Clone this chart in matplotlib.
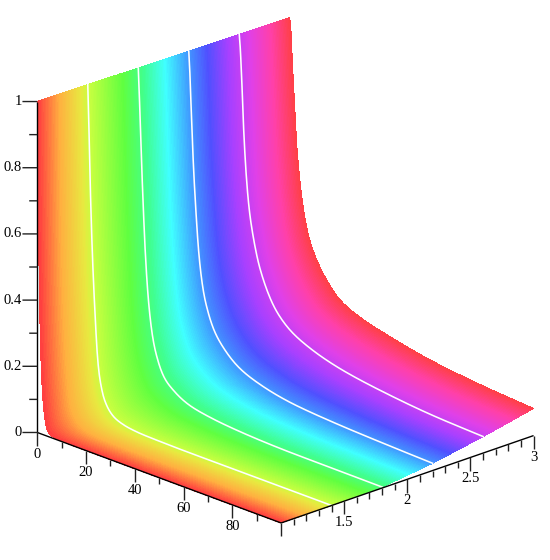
import numpy as np
import matplotlib
matplotlib.use("Agg")
import matplotlib.pyplot as plt
from matplotlib.colors import to_rgb
from mpl_toolkits.mplot3d import proj3d

# values
x_samples = [0, 0.5, 1, 2, 3, 4, 6, 8, 10, 15, 20, 30, 40, 60, 80, 100]
z_y10 = [1, .62, .37, .14, .055, .02, .006, .002, .001, 0, 0, 0, 0, 0, 0, 0]
z_y14 = [.998, .86, .70, .47, .31, .185, .085, .047, .028, .01, .004, .001, 0, 0, 0, 0]
z_y18 = [.996, .90, .79, .59, .43, .32, .195, .135, .098, .058, .037, .02, .012, .005, .004, .003]
z_y22 = [.994, .92, .82, .64, .51, .405, .285, .225, .185, .13, .097, .065, .048, .034, .027, .022]
z_y26 = [.992, .94, .86, .68, .56, .48, .385, .32, .275, .20, .16, .12, .097, .072, .057, .05]
z_y30 = [.99, .95, .87, .73, .60, .52, .41, .345, .305, .24, .197, .16, .14, .11, .093, .082]
y_samples = [1.0, 1.4, 1.8, 2.2, 2.6, 3.0]
contour_y = [1.4, 1.8, 2.2, 2.6]

hue_pos = [0, 30, 60, 72, 120, 150, 180, 210, 240, 270, 300, 330, 360]
hue_colors = ["#ff4040", "#ffb040", "#e8e840", "#c8ff40", "#60ff40", "#40ff90", "#40ffff",
              "#40a0ff", "#5050ff", "#a840ff", "#e040e8", "#ff40a8", "#ff4040"]

x_major = [0, 20, 40, 60, 80]
x_minor = [10, 30, 50, 70, 90]
y_major = [1.5, 2, 2.5, 3]
y_minor = [1.1, 1.2, 1.3, 1.4, 1.6, 1.7, 1.8, 1.9, 2.1, 2.2, 2.3, 2.4, 2.6, 2.7, 2.8, 2.9]
z_major = [0, 0.2, 0.4, 0.6, 0.8, 1]
z_minor = [0.1, 0.3, 0.5, 0.7, 0.9]


def smooth_profile(xq, values):
    """Hermite curve through the read values, on a log(1+x) axis."""
    t = np.log1p(np.array(x_samples, float))
    v = np.array(values, float)
    m = np.gradient(v, t)
    tq = np.log1p(xq)
    i = np.clip(np.searchsorted(t, tq, side="right") - 1, 0, len(t) - 2)
    h = t[i + 1] - t[i]
    s = (tq - t[i]) / h
    out = ((2 * s**3 - 3 * s**2 + 1) * v[i] + (s**3 - 2 * s**2 + s) * h * m[i]
           + (-2 * s**3 + 3 * s**2) * v[i + 1] + (s**3 - s**2) * h * m[i + 1])
    return np.clip(out, 0, 1)


plt.rcParams["font.family"] = "Liberation Serif"
fig = plt.figure(figsize=(5.5, 5.6), dpi=100)
ax = fig.add_axes([3 / 550, 4 / 560, 1, 1], projection="3d", proj_type="ortho", computed_zorder=False)
ax.view_init(elev=21, azim=-44)
ax.set_box_aspect((1, 1, 1.01), zoom=1.0766)
ax.set_xlim(0, 100, view_margin=0)
ax.set_ylim(1, 3, view_margin=0)
ax.set_zlim(0, 1, view_margin=0)
ax.set_xticks([])
ax.set_yticks([])
ax.set_zticks([])
ax.set_axis_off()

# sheet through the read values, subdivided for painting the gradient
table = np.array([z_y10, z_y14, z_y18, z_y22, z_y26, z_y30])
xs = np.linspace(0, 10, 180) ** 2
ys = np.linspace(1, 3, 181)
rows = np.array([smooth_profile(xs, r) for r in table])
Z = np.array([np.interp(ys, y_samples, rows[:, j]) for j in range(len(xs))])
X, Y = np.meshgrid(xs, ys, indexing="ij")
rgb = np.array([to_rgb(c) for c in hue_colors])
hue = (ys - 1) / 2 * 360
col = np.stack([np.interp(hue, hue_pos, rgb[:, k]) for k in range(3)], axis=1)
fc = np.ones(X.shape + (4,))
fc[..., :3] = col[None, :, :]
ax.plot_surface(X, Y, Z, facecolors=fc, rstride=1, cstride=1, linewidth=0,
                antialiased=False, shade=False, zorder=1)

for yc in contour_y:
    zc = rows[y_samples.index(yc)]
    ax.plot(xs, np.full_like(xs, yc), zc, color="white", lw=1.15, zorder=2)

axis_kw = dict(color="black", lw=1.0, zorder=3, solid_capstyle="butt")
tick_kw = dict(color="#222222", lw=1.0, zorder=3, solid_capstyle="butt")
ax.plot([0, 100], [1, 1], [0, 0], **axis_kw)
ax.plot([100, 100], [1, 3], [0, 0], **axis_kw)
ax.plot([0, 0], [1, 1], [0, 1], **axis_kw)

fig.canvas.draw()
proj = ax.get_proj()


def label(x, y, z, s, **kw):
    u, v, _ = proj3d.proj_transform(x, y, z, proj)
    ax.text2D(u, v, s, transform=ax.transData, fontsize=10.5, color="black",
              va="center", zorder=4, **kw)


for v in x_major + [100]:
    ax.plot([v, v], [1, 1], [0, -0.04], **tick_kw)
for v in x_minor:
    ax.plot([v, v], [1, 1], [0, -0.02], **tick_kw)
for v in x_major:
    label(v, 1, -0.065, str(v), ha="center")
for v in y_major:
    ax.plot([100, 100], [v, v], [0, -0.04], **tick_kw)
for v in y_minor:
    ax.plot([100, 100], [v, v], [0, -0.02], **tick_kw)
for v in y_major:
    label(100, v, -0.065, f"{v:g}", ha="center")
for v in z_major:
    ax.plot([0, -2.94], [1, 1 - 0.0608], [v, v], **tick_kw)
    label(-3.0, 1 - 0.062, v, f"{v:g}", ha="right")
for v in z_minor:
    ax.plot([0, -1.6], [1, 1 - 0.033], [v, v], **tick_kw)

fig.savefig("out.png", dpi=100)
